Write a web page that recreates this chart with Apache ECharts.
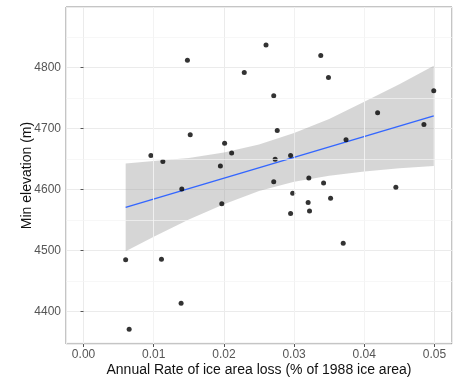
<!DOCTYPE html>
<html>
<head>
<meta charset="utf-8">
<script src="https://cdn.jsdelivr.net/npm/echarts@6/dist/echarts.min.js"></script>
<style>
  html, body { margin: 0; padding: 0; background: #ffffff; }
  #chart { width: 463px; height: 385px; }
</style>
</head>
<body>
<div id="chart"></div>
<script>
// Glaciers: annual rate of ice area loss vs. minimum elevation
const rateLoss = [0.0060, 0.0065, 0.0096, 0.0113, 0.0111, 0.0139, 0.0140, 0.0148, 0.0152,
  0.0195, 0.0197, 0.0201, 0.0211, 0.0229, 0.0260, 0.0271, 0.0271, 0.0273, 0.0276,
  0.0295, 0.0295, 0.0298, 0.0320, 0.0321, 0.0322, 0.0338, 0.0342, 0.0349, 0.0352,
  0.0370, 0.0374, 0.0419, 0.0445, 0.0485, 0.0499];
const minElev = [4485, 4371, 4656, 4646, 4486, 4414, 4601, 4812, 4690,
  4639, 4577, 4676, 4660, 4792, 4837, 4754, 4613, 4650, 4697,
  4656, 4561, 4594, 4579, 4619, 4565, 4820, 4611, 4784, 4586,
  4512, 4682, 4726, 4604, 4707, 4762];

// Linear fit and its confidence band
const fitX = [0.0060, 0.0499];
const fitY = [4571, 4721];
const bandX = [0.006, 0.010, 0.015, 0.020, 0.025, 0.030, 0.035, 0.040, 0.045, 0.0499];
const bandUpper = [4643, 4647, 4652, 4661, 4674, 4693, 4716, 4744, 4773, 4803];
const bandLower = [4499, 4523, 4551, 4576, 4598, 4613, 4623, 4630, 4635, 4639];

// Minor grid positions
const xMinor = [0.005, 0.015, 0.025, 0.035, 0.045];
const yMinor = [4350, 4450, 4550, 4650, 4750, 4850];

const chart = echarts.init(document.getElementById('chart'), null, { renderer: 'canvas' });

const font = 'Liberation Sans, Arial, sans-serif';

const option = {
  animation: false,
  backgroundColor: '#ffffff',
  grid: {
    left: 66, right: 11, top: 7, bottom: 41,
    show: true, borderColor: '#8a8a8a', borderWidth: 1, backgroundColor: '#ffffff'
  },
  xAxis: {
    type: 'value',
    min: -0.0025, max: 0.0525,
    splitNumber: 5,
    name: 'Annual Rate of ice area loss (% of 1988 ice area)',
    nameLocation: 'middle',
    nameGap: 19,
    nameMoveOverlap: false,
    nameTextStyle: { fontFamily: font, fontSize: 14, color: '#111111' },
    axisLine: { show: false },
    axisTick: { show: true, length: 3, lineStyle: { color: '#555555' } },
    axisLabel: {
      fontFamily: font, fontSize: 12, color: '#555555', margin: 5,
      showMinLabel: false, showMaxLabel: false,
      formatter: v => v.toFixed(2)
    },
    splitLine: { show: true, lineStyle: { color: '#ebebeb', width: 1 } }
  },
  yAxis: {
    type: 'value',
    min: 4347, max: 4899.5,
    splitNumber: 5,
    name: 'Min elevation (m)',
    nameLocation: 'middle',
    nameGap: 32,
    nameMoveOverlap: false,
    nameTextStyle: { fontFamily: font, fontSize: 14, color: '#111111' },
    axisLine: { show: false },
    axisTick: { show: true, length: 3, lineStyle: { color: '#555555' } },
    axisLabel: {
      fontFamily: font, fontSize: 12, color: '#555555', margin: 5,
      showMinLabel: false, showMaxLabel: false,
      formatter: v => String(v)
    },
    splitLine: { show: true, lineStyle: { color: '#ebebeb', width: 1 } }
  },
  series: [
    {
      // minor grid lines
      type: 'line',
      data: [],
      z: 1,
      silent: true,
      markLine: {
        silent: true,
        symbol: 'none',
        label: { show: false },
        lineStyle: { color: '#f3f3f3', width: 0.7, type: 'solid' },
        data: xMinor.map(v => ({ xAxis: v })).concat(yMinor.map(v => ({ yAxis: v })))
      }
    },
    {
      // confidence band
      type: 'custom',
      z: 2,
      silent: true,
      data: [[0]],
      renderItem: function (params, api) {
        const pts = [];
        for (let i = 0; i < bandX.length; i++) pts.push(api.coord([bandX[i], bandUpper[i]]));
        for (let i = bandX.length - 1; i >= 0; i--) pts.push(api.coord([bandX[i], bandLower[i]]));
        return {
          type: 'polygon',
          shape: { points: pts, smooth: 0 },
          style: { fill: 'rgba(153,153,153,0.4)' }
        };
      }
    },
    {
      // fitted line
      type: 'line',
      z: 3,
      data: fitX.map((x, i) => [x, fitY[i]]),
      showSymbol: false,
      lineStyle: { color: '#3366FF', width: 1.5 }
    },
    {
      type: 'scatter',
      z: 4,
      data: rateLoss.map((x, i) => [x, minElev[i]]),
      symbolSize: 5,
      itemStyle: { color: '#000000' }
    }
  ]
};

chart.setOption(option);
</script>
</body>
</html>
